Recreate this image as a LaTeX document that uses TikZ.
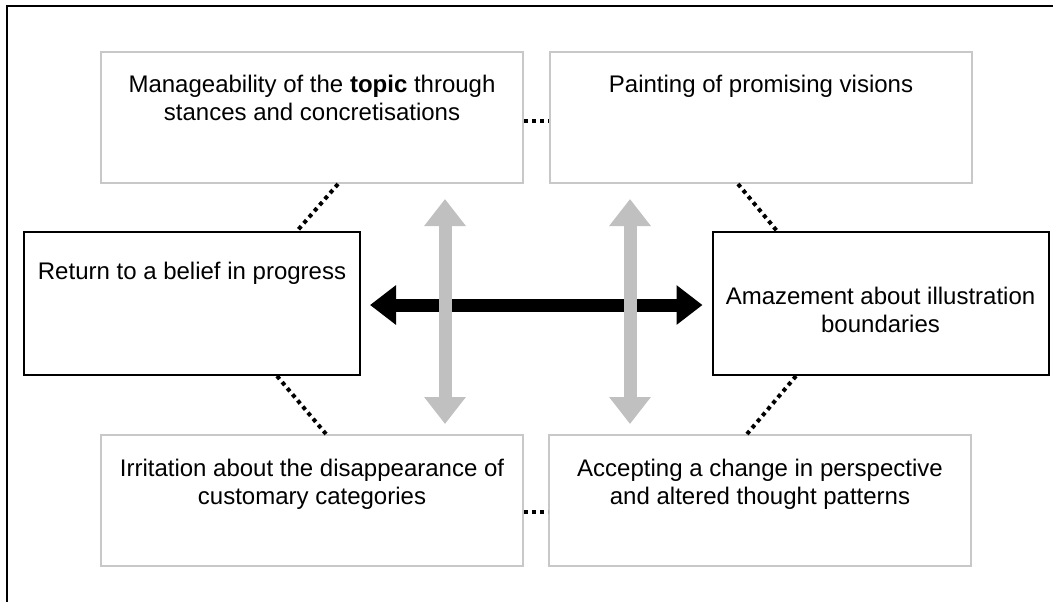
\documentclass[tikz,border=0pt]{standalone}
\usepackage{fontspec}
\setmainfont{Liberation Sans}
\usetikzlibrary{arrows.meta,positioning}
\definecolor{boxgrey}{RGB}{200,200,200}
\definecolor{arrowgrey}{RGB}{192,192,192}
\tikzset{
    greybox/.style={draw=boxgrey, line width=1pt, minimum width=211pt, minimum height=65.5pt, inner sep=0pt},
    blackbox/.style={draw=black, line width=1pt, minimum width=168pt, minimum height=71.5pt, inner sep=0pt},
    boxtext/.style={inner sep=0pt, align=center, font=\fontsize{12}{14}\selectfont},
    dotline/.style={line width=2pt, dash pattern=on 2pt off 2pt},
    bigarrow/.style={line width=6.5pt, {Triangle[length=13pt,width=19pt]}-{Triangle[length=13pt,width=19pt]}, shorten <=4.5pt, shorten >=4.5pt},
    greyarrow/.style={draw=arrowgrey, line width=6.5pt, {Triangle[length=13.5pt,width=20pt]}-{Triangle[length=13.5pt,width=20pt]}}
}
\begin{document}
\begin{tikzpicture}[x=0.5pt, y=-0.5pt]
    \useasboundingbox (0,0) rectangle (1053,602);
    % frame, only top and left edge visible
    \draw[line width=1pt] (1053,6) -- (7,6) -- (7,602);

    % boxes
    \node[greybox] (manage) at (312,117.5) {};
    \node[greybox] (visions) at (761,117.5) {};
    \node[blackbox] (belief) at (192,303.5) {};
    \node[blackbox] (amaze) at (880.5,303.5) {};
    \node[greybox] (irrit) at (312,500.5) {};
    \node[greybox] (accept) at (760,500.5) {};

    % texts
    \node[boxtext, below=11.75pt of manage.north] (managetxt) {Manageability of the \textbf{topic} through\\stances and concretisations};
    \node[boxtext, below=11.75pt of visions.north] (visionstxt) {Painting of promising visions};
    \node[boxtext, below=15.25pt of belief.north] (belieftxt) {Return to a belief in progress};
    \node[boxtext, below=27.75pt of amaze.north] (amazetxt) {Amazement about illustration\\boundaries};
    \node[boxtext, below=12.25pt of irrit.north] (irrittxt) {Irritation about the disappearance of\\customary categories};
    \node[boxtext, below=12.25pt of accept.north] (accepttxt) {Accepting a change in perspective\\and altered thought patterns};

    % dotted links
    \draw[dotline] ([yshift=-1.75pt]manage.east) -- ([yshift=-1.75pt]visions.west);
    \draw[dotline] ([yshift=-5.75pt]irrit.east) -- ([yshift=-5.75pt]accept.west);
    \draw[dotline] ([xshift=13pt]manage.south) -- ([xshift=52.5pt]belief.north);
    \draw[dotline] ([xshift=-11.5pt]visions.south) -- ([xshift=-51.75pt]amaze.north);
    \draw[dotline] ([xshift=42.5pt]belief.south) -- ([xshift=7pt]irrit.north);
    \draw[dotline] ([xshift=-42.25pt]amaze.south) -- ([xshift=-6.5pt]accept.north);

    % arrows
    \draw[bigarrow] ([yshift=-0.75pt]belief.east) -- ([yshift=-0.75pt]amaze.west);
    \draw[greyarrow, shorten <=7.5pt, shorten >=5pt] ([xshift=66.5pt]manage.south) -- ([xshift=66.5pt]manage.south |- irrit.north);
    \draw[greyarrow, shorten <=7.5pt, shorten >=5pt] ([xshift=-65.5pt]visions.south) -- ([xshift=-65.5pt]visions.south |- accept.north);
\end{tikzpicture}
\end{document}
